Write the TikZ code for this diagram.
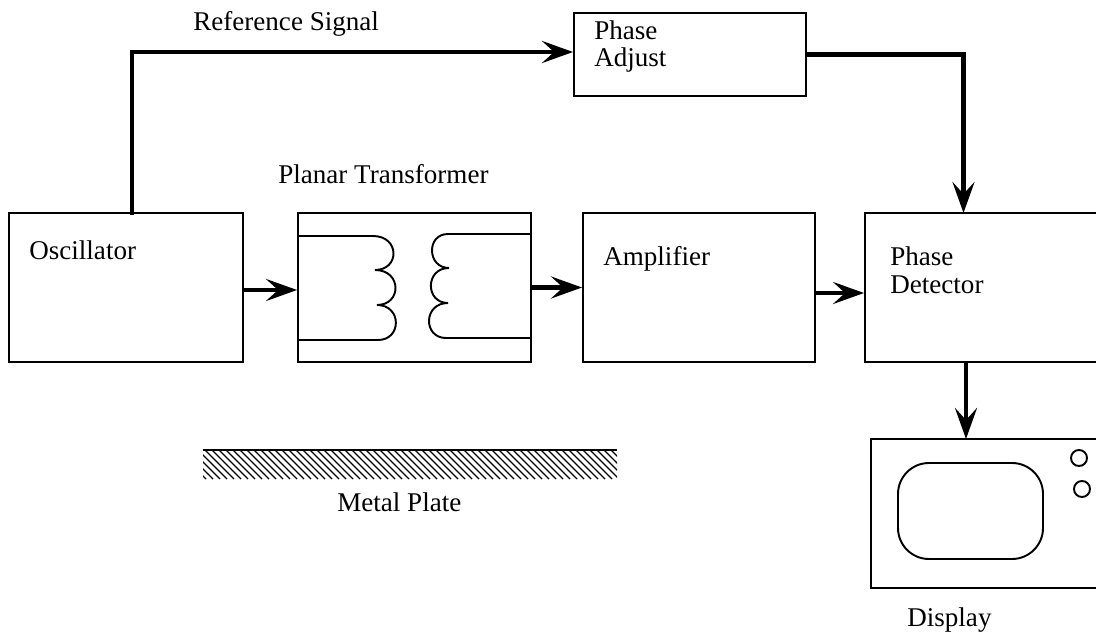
\documentclass[tikz,border=0pt]{standalone}
\usepackage{fontspec}
\setmainfont{Liberation Serif}
\usetikzlibrary{arrows.meta}

\begin{document}
\begin{tikzpicture}[
  x=0.02cm,y=-0.02cm,
  font=\fontsize{15.4}{15.9}\selectfont,
  blockbox/.style={draw,line width=1.1pt,inner sep=0pt},
  lbl/.style={anchor=base west,align=left,inner sep=0pt},
  sig/.style={draw,line width=2.4pt,-{Stealth[length=0.62cm,width=0.44cm,inset=0.24cm]}},
  wire/.style={draw,line width=1.1pt},
  hatchline/.style={draw,line width=0.8pt},
]
\useasboundingbox (0,0) rectangle (1096,635);

% blocks
\node[blockbox,minimum width=4.68cm,minimum height=2.98cm] (osc) at (126,287.5) {};
\node[blockbox,minimum width=4.66cm,minimum height=2.98cm] (xfmr) at (414.5,287.5) {};
\node[blockbox,minimum width=4.64cm,minimum height=2.98cm] (amp) at (699,287.5) {};
\node[blockbox,minimum width=4.68cm,minimum height=2.98cm] (det) at (982,287.5) {};
\node[blockbox,minimum width=4.64cm,minimum height=1.66cm] (adjust) at (690,54.5) {};
\node[blockbox,minimum width=4.58cm,minimum height=2.98cm] (disp) at (985.5,513.5) {};

\node[lbl] (osclbl) at (29,259) {Oscillator};
\node[lbl] (amplbl) at (603,265) {Amplifier};
\node[lbl] (detlbl) at (890,293) {Phase\\Detector};
\node[lbl] (adjlbl) at (594,67) {Phase\\Adjust};
\node[lbl] (reflbl) at (193,31) {Reference Signal};
\node[lbl] (xfmrlbl) at (278,184) {Planar Transformer};
\node[lbl] (platelbl) at (337,511) {Metal Plate};
\node[lbl] (displbl) at (907,626) {Display};

% signal paths
\coordinate (reftap) at (132,215);
\coordinate (detin) at (963.5,213);
\coordinate (detout) at (966,362);
\coordinate (dispin) at (966,439);
\draw[sig] (reftap) |- ([yshift=0.05cm]adjust.west);
\draw[sig] (adjust.east) -| (detin);
\draw[sig] ([yshift=-0.05cm]osc.east) -- ([yshift=-0.05cm]xfmr.west);
\draw[sig] (xfmr.east) -- (amp.west);
\draw[sig] ([yshift=-0.11cm]amp.east) -- ([yshift=-0.11cm]det.west);
\draw[sig] (detout) -- (dispin);

% windings
\draw[wire] (298,236) -- (373,236)
  .. controls (400,236) and (400,270) .. (375,270)
  .. controls (402,270) and (402,305) .. (377,305)
  .. controls (402,305) and (402,340) .. (378,340) -- (298,340);
\draw[wire] (531,234) -- (448,234)
  .. controls (426,234) and (427,268) .. (449,268)
  .. controls (425,268) and (425,303) .. (448,303)
  .. controls (423,303) and (423,338) .. (446,338) -- (531,338);

% metal plate
\begin{scope}
\clip (203,450) rectangle (617,479);
\foreach \hx in {170,177,...,620}
  \draw[hatchline] (\hx,450) -- (\hx+29,479);
\end{scope}
\draw[line width=1.2pt] (203,450) -- (617,450);

% display
\draw[wire,rounded corners=0.62cm] (898,463) rectangle (1043,559);
\node[draw,line width=1.1pt,circle,minimum size=0.32cm,inner sep=0pt] (knoba) at (1079,458) {};
\node[draw,line width=1.1pt,circle,minimum size=0.32cm,inner sep=0pt] (knobb) at (1082,489) {};
\end{tikzpicture}
\end{document}
